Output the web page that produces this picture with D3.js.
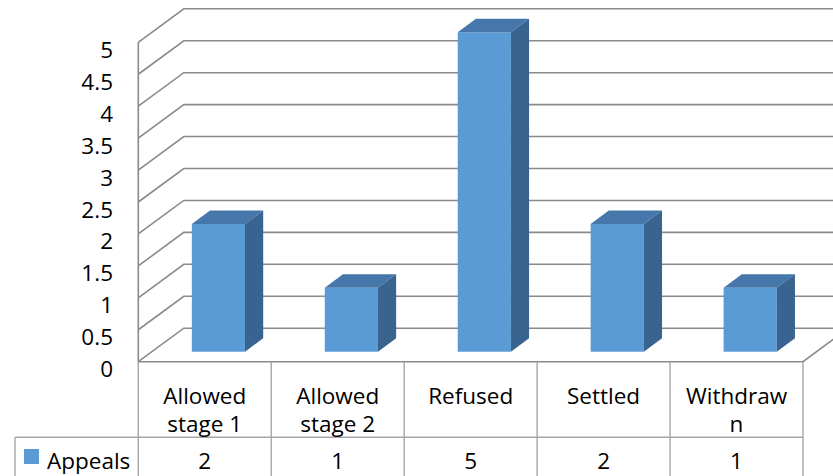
<!DOCTYPE html>
<html>
<head>
<meta charset="utf-8">
<script src="https://cdn.jsdelivr.net/npm/d3@7/dist/d3.min.js"></script>
<style>
  html, body { margin: 0; padding: 0; background: #ffffff; }
  svg { display: block; }
  text { font-family: "Open Sans", "Noto Sans", sans-serif; fill: #000; }
</style>
</head>
<body>
<svg id="chart" width="833" height="476"></svg>
<script>
// Appeal outcomes, one series
const categories = ["Allowed stage 1", "Allowed stage 2", "Refused", "Settled", "Withdrawn"];
const categoryLines = [["Allowed", "stage 1"], ["Allowed", "stage 2"], ["Refused"], ["Settled"], ["Withdraw", "n"]];
const seriesName = "Appeals";
const appeals = [2, 1, 5, 2, 1];
const yTicks = [0, 0.5, 1, 1.5, 2, 2.5, 3, 3.5, 4, 4.5, 5];

const svg = d3.select("#chart");
const W = 833, H = 476;

// Front plane of the 3-D box and the depth vector for receding edges
const left = 138.3, right = 803, floorY = 361.7, topY = 42.3;
const depth = { dx: 45.5, dy: -33.5 };
const barZ0 = 0.3, barZ1 = 0.7;   // bars sit in the middle of the depth

const x = d3.scaleBand().domain(categories).range([left, right])
  .paddingInner(0.6).paddingOuter(0.3);
const y = d3.scaleLinear().domain([0, 5]).range([floorY, topY]);
const step = x.step();

const proj = (px, v, z) => [px + z * depth.dx, y(v) + z * depth.dy];
const poly = pts => pts.map(p => p.join(",")).join(" ");

const gridColor = "#8a8a8a";
const tableColor = "#a6a6a6";

// Walls: gridlines run up the left wall and across the back wall
const grid = svg.append("g").attr("fill", "none").attr("stroke", gridColor).attr("stroke-width", 1.6);
yTicks.forEach(v => {
  const a = proj(left, v, 0), b = proj(left, v, 1), c = proj(right + 60, v, 1);
  grid.append("polyline").attr("points", poly([a, b, [c[0], b[1]]]));
});
// Left wall front edge
grid.append("line")
  .attr("x1", left).attr("x2", left)
  .attr("y1", y(0)).attr("y2", y(5));
// Floor front and right edges
grid.append("polyline").attr("points", poly([proj(left, 0, 0), proj(right, 0, 0), proj(right, 0, 1)]));

// Y axis labels
svg.append("g").selectAll("text").data(yTicks).join("text")
  .attr("x", 113).attr("y", d => y(d) + 15.5)
  .attr("text-anchor", "end").attr("font-size", 22.5)
  .text(d => d);

// Bars as boxes: front, top and side faces
const bars = svg.append("g");
categories.forEach((c, i) => {
  const v = appeals[i];
  const x0 = x(c), x1 = x(c) + x.bandwidth();
  const g = bars.append("g");
  g.append("polygon").attr("fill", "#5b9bd5")
    .attr("points", poly([proj(x0, 0, barZ0), proj(x1, 0, barZ0), proj(x1, v, barZ0), proj(x0, v, barZ0)]));
  g.append("polygon").attr("fill", "#4677ab")
    .attr("points", poly([proj(x0, v, barZ0), proj(x1, v, barZ0), proj(x1, v, barZ1), proj(x0, v, barZ1)]));
  g.append("polygon").attr("fill", "#3a6490")
    .attr("points", poly([proj(x1, 0, barZ0), proj(x1, 0, barZ1), proj(x1, v, barZ1), proj(x1, v, barZ0)]));
});

// Data table under the chart
const rowY = 437.3;
const table = svg.append("g").attr("stroke", tableColor).attr("stroke-width", 1.4).attr("fill", "none");
d3.range(categories.length + 1).forEach(i => {
  const cx = left + i * step;
  table.append("line").attr("x1", cx).attr("x2", cx).attr("y1", floorY).attr("y2", H + 2);
});
table.append("line").attr("x1", 15).attr("x2", right).attr("y1", rowY).attr("y2", rowY);
table.append("line").attr("x1", 15).attr("x2", 15).attr("y1", rowY).attr("y2", H + 2);

// Category names (wrapped inside their cells)
const catG = svg.append("g");
categories.forEach((c, i) => {
  const cx = left + (i + 0.5) * step;
  const t = catG.append("text").attr("text-anchor", "middle").attr("font-size", 22.5);
  categoryLines[i].forEach((line, j) => {
    t.append("tspan").attr("x", cx).attr("y", 404 + j * 28).text(line);
  });
});

// Values row
svg.append("g").selectAll("text").data(appeals).join("text")
  .attr("x", (d, i) => left + (i + 0.5) * step).attr("y", 469)
  .attr("text-anchor", "middle").attr("font-size", 22.5)
  .text(d => d);

// Legend key in the table's first column
svg.append("rect").attr("x", 24).attr("y", 449).attr("width", 15).attr("height", 15).attr("fill", "#5b9bd5");
svg.append("text").attr("x", 47).attr("y", 469).attr("font-size", 22.5).text(seriesName);
</script>
</body>
</html>
